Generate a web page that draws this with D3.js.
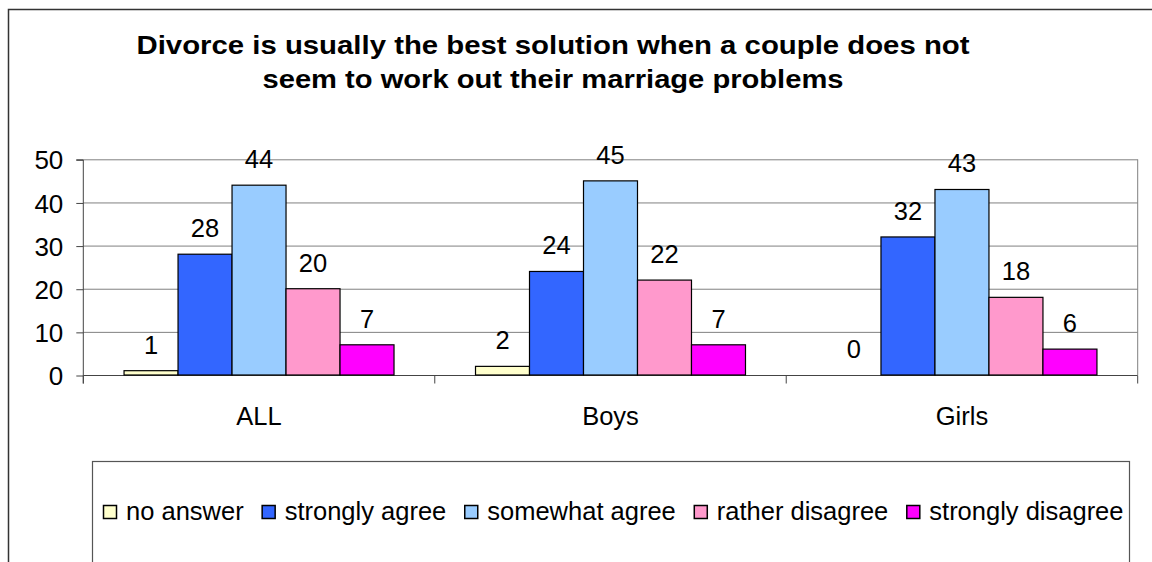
<!DOCTYPE html>
<html><head><meta charset="utf-8">
<script src="https://cdn.jsdelivr.net/npm/d3@7"></script>
<style>
html,body{margin:0;padding:0;background:#fff;}
svg{display:block;}
text{font-family:"Liberation Sans",Arial,sans-serif;fill:#000;}
</style></head>
<body>
<svg id="chart" width="1152" height="562"></svg>
<script>
const titleLines = ["Divorce is usually the best solution when a couple does not","seem to work out their marriage problems"];
const categories = ["ALL","Boys","Girls"];
const seriesNames = ["no answer","strongly agree","somewhat agree","rather disagree","strongly disagree"];
const seriesColors = ["#FFFFCC","#3366FF","#99CCFF","#FF99CC","#FF00FF"];
const noAnswer = [1,2,0];
const stronglyAgree = [28,24,32];
const somewhatAgree = [44,45,43];
const ratherDisagree = [20,22,18];
const stronglyDisagree = [7,7,6];
const yTicks = [0,10,20,30,40,50];

(function(){
const seriesValues = [noAnswer,stronglyAgree,somewhatAgree,ratherDisagree,stronglyDisagree];
const data = categories.map((c,i)=>({cat:c, vals: seriesValues.map((s,j)=>({name:seriesNames[j], v:s[i], j}))}));

const svg = d3.select("#chart");
const FS = 25.5;

// outer border
svg.append("path").attr("d","M8.5,600 V9.5 H1160").attr("fill","none").attr("stroke","#333").attr("stroke-width",1.5);

// title
titleLines.forEach((t,i)=>{
  svg.append("text").attr("x",553).attr("y",54+i*34)
    .attr("text-anchor","middle").attr("font-weight","bold").attr("font-size",25)
    .attr("textLength", i===0?833:581).attr("lengthAdjust","spacingAndGlyphs")
    .text(t);
});

const pL=83.3, pR=1137.7, pT=159.3, pB=375;
const y = d3.scaleLinear().domain([0,50]).range([pB,pT]);
const g0 = 81.5/351.5;
const x0 = d3.scaleBand().domain(categories).range([pL,pR]).paddingInner(g0).paddingOuter(g0/2);
const x1 = d3.scaleBand().domain(seriesNames).range([0,x0.bandwidth()]).padding(0);

// gridlines
svg.append("g").selectAll("line").data(yTicks.filter(d=>d>0)).join("line")
  .attr("x1",pL).attr("x2",pR).attr("y1",d=>y(d)+0.5).attr("y2",d=>y(d)+0.5)
  .attr("stroke","#808080").attr("stroke-width",1);
// plot right border
svg.append("line").attr("x1",pR).attr("x2",pR).attr("y1",pT).attr("y2",pB).attr("stroke","#808080");

// y axis
const yAxis = d3.axisLeft(y).tickValues(yTicks).tickSize(7).tickPadding(13);
const ya = svg.append("g").attr("transform",`translate(${pL},0.5)`).call(yAxis);
ya.select(".domain").attr("stroke","#444").attr("d",`M-7,${y(50)}H0V${pB+8}`);
ya.selectAll(".tick line").attr("stroke","#444");
ya.selectAll(".tick text").attr("font-size",26).attr("font-family","Liberation Sans, Arial, sans-serif").attr("fill","#000").attr("dy","0.35em");

// x axis
const xa = svg.append("g").attr("transform",`translate(0,${pB+0.5})`);
xa.append("line").attr("x1",pL).attr("x2",pR).attr("stroke","#444");
const catBounds = [pL].concat(categories.map((c,i)=>pL+(i+1)*(pR-pL)/categories.length));
xa.selectAll(".tk").data(catBounds).join("line").attr("class","tk")
  .attr("x1",d=>d).attr("x2",d=>d).attr("y1",0).attr("y2",8).attr("stroke","#444");
xa.selectAll(".lbl").data(categories).join("text").attr("class","lbl")
  .attr("x",d=>x0(d)+x0.bandwidth()/2).attr("y",49).attr("text-anchor","middle")
  .attr("font-size",FS).text(d=>d);

// bars
const groups = svg.append("g").selectAll("g").data(data).join("g")
  .attr("transform",d=>`translate(${x0(d.cat)},0)`);
groups.selectAll("rect").data(d=>d.vals).join("rect")
  .attr("x",d=>x1(d.name)).attr("width",x1.bandwidth())
  .attr("y",d=>y(d.v)).attr("height",d=>pB-y(d.v))
  .attr("fill",d=>seriesColors[d.j]).attr("stroke","#000").attr("stroke-width",1.2)
  .attr("display",d=>d.v===0?"none":null);
groups.selectAll("text").data(d=>d.vals).join("text")
  .attr("x",d=>x1(d.name)+x1.bandwidth()/2).attr("y",d=>y(d.v)-17)
  .attr("text-anchor","middle").attr("font-size",FS).text(d=>d.v);

// legend
svg.append("rect").attr("x",92.5).attr("y",461.5).attr("width",1037).attr("height",200)
  .attr("fill","none").attr("stroke","#555").attr("stroke-width",1.2);
let lx = 103;
const leg = svg.append("g");
seriesNames.forEach((n,i)=>{
  leg.append("rect").attr("x",lx+0.5).attr("y",505.5).attr("width",13).attr("height",13)
    .attr("fill",seriesColors[i]).attr("stroke","#000").attr("stroke-width",1.5);
  const t = leg.append("text").attr("x",lx+23).attr("y",520).attr("font-size",FS).text(n);
  lx = lx + 23 + t.node().getComputedTextLength() + 18;
});
})();
</script>
</body></html>
